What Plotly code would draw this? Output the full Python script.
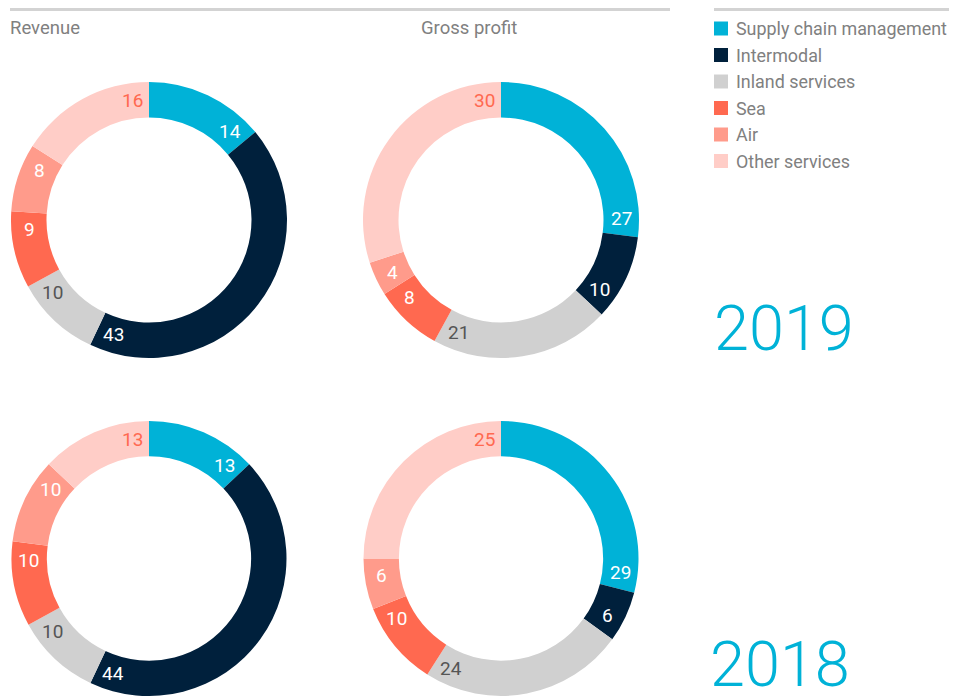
import math
import plotly.graph_objects as go

OFF = 8  # default page body margin; reference pixel coords are shifted by this
W, H = 957 - 2 * OFF, 696 - OFF

segments = ["Supply chain management", "Intermodal", "Inland services", "Sea", "Air", "Other services"]
colors = ["#00b2d7", "#00203c", "#d0d0d0", "#ff6950", "#ff9b8b", "#ffcdc7"]
label_colors = ["#ffffff", "#ffffff", "#555555", "#ffffff", "#ffffff", "#ff6950"]

revenue_2019 = [14, 43, 10, 9, 8, 16]
gross_2019 = [27, 10, 21, 8, 4, 30]
revenue_2018 = [13, 44, 10, 10, 10, 13]
gross_2018 = [29, 6, 24, 10, 6, 25]

column_titles = ["Revenue", "Gross profit"]
years = ["2019", "2018"]

FONT = "Roboto"
GRAY = "#808080"
CYAN = "#00b2d7"

R_OUT = 138
R_IN = 102.5
centers = {
    ("rev", "2019"): (149, 220),
    ("gp", "2019"): (501, 220),
    ("rev", "2018"): (149, 559),
    ("gp", "2018"): (501, 559),
}
data = {
    ("rev", "2019"): revenue_2019,
    ("gp", "2019"): gross_2019,
    ("rev", "2018"): revenue_2018,
    ("gp", "2018"): gross_2018,
}

def px2paper(x, y):
    # x, y in reference page pixels
    return (x - OFF) / W, 1 - (y - OFF) / H

fig = go.Figure()
annotations = []
shapes = []

for key, vals in data.items():
    cx, cy = centers[key]
    x0, y1 = px2paper(cx - R_OUT, cy - R_OUT)
    x1, y0 = px2paper(cx + R_OUT, cy + R_OUT)
    fig.add_trace(go.Pie(
        labels=segments, values=vals,
        marker=dict(colors=colors, line=dict(width=0)),
        hole=R_IN / R_OUT, sort=False, direction="clockwise", rotation=0,
        textinfo="none", showlegend=False, hoverinfo="label+value",
        domain=dict(x=[max(0, x0), min(1, x1)], y=[max(0, y0), min(1, y1)]),
    ))
    total = sum(vals)
    cum = 0
    rmid = (R_IN + R_OUT) / 2
    for i, v in enumerate(vals):
        cum += v
        ang = math.radians(cum / total * 360 - 8)
        lx = cx + rmid * math.sin(ang)
        ly = cy - rmid * math.cos(ang)
        px, py = px2paper(lx, ly)
        annotations.append(dict(
            x=px, y=py, xref="paper", yref="paper", text=str(v), showarrow=False,
            font=dict(family=FONT, size=19, color=label_colors[i]),
            xanchor="center", yanchor="middle",
        ))

for t, xpix in zip(column_titles, [8, 419]):
    px, py = px2paper(xpix, 28)
    annotations.append(dict(x=px, y=py, xref="paper", yref="paper", text=t, showarrow=False,
                            xanchor="left", yanchor="middle",
                            font=dict(family=FONT, size=18.5, color=GRAY)))

for i, (name, c) in enumerate(zip(segments, colors)):
    yc = 28.5 + 26.5 * i
    sx0, sy1 = px2paper(714, yc - 7)
    sx1, sy0 = px2paper(728, yc + 7)
    shapes.append(dict(type="rect", xref="paper", yref="paper", x0=sx0, x1=sx1, y0=sy0, y1=sy1,
                       fillcolor=c, line=dict(width=0)))
    px, py = px2paper(734, yc)
    annotations.append(dict(x=px, y=py, xref="paper", yref="paper", text=name, showarrow=False,
                            xanchor="left", yanchor="middle",
                            font=dict(family=FONT, size=17.9, color=GRAY)))

for yr, (xpix, ypix) in zip(years, [(784, 328), (780, 664)]):
    px, py = px2paper(xpix, ypix)
    annotations.append(dict(x=px, y=py, xref="paper", yref="paper", text=yr, showarrow=False,
                            xanchor="center", yanchor="middle", height=60, valign="middle",
                            font=dict(family=FONT, size=63, color=CYAN, weight=300)))

for xa, xb in [(10, 670), (714, 949)]:
    ax, ay = px2paper(xa, 9.5)
    bx, _ = px2paper(xb, 9.5)
    shapes.append(dict(type="line", xref="paper", yref="paper", x0=ax, x1=bx, y0=ay, y1=ay,
                       line=dict(color="#d3d3d3", width=3)))

fig.update_layout(
    width=W, height=H, margin=dict(l=0, r=0, t=0, b=0),
    paper_bgcolor="white", plot_bgcolor="white",
    annotations=annotations, shapes=shapes, showlegend=False,
)
fig.write_html("out.html")
